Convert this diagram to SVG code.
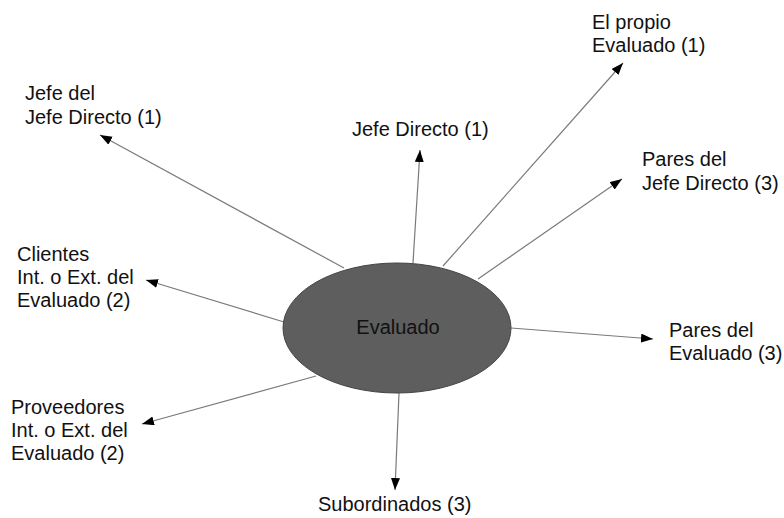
<svg xmlns="http://www.w3.org/2000/svg" width="784" height="518" viewBox="0 0 784 518">
<defs>
<marker id="ah" markerUnits="userSpaceOnUse" markerWidth="13" markerHeight="10" refX="12" refY="4.5" orient="auto">
<path d="M0,0 L12,4.5 L0,9 z" fill="#000"/>
</marker>
<style>
text{font-family:"Liberation Sans",Arial,Helvetica,sans-serif;font-size:20px;fill:#111}
.c{stroke:#7a7a7a;stroke-width:1.2;fill:none;marker-end:url(#ah)}
</style>
</defs>
<rect width="784" height="518" fill="#fff"/>
<g id="connectors">
<line class="c" x1="344" y1="268" x2="100" y2="135"/>
<line class="c" x1="413" y1="263" x2="420" y2="150"/>
<line class="c" x1="443" y1="266" x2="623" y2="63"/>
<line class="c" x1="478" y1="279" x2="622" y2="179"/>
<line class="c" x1="284" y1="322" x2="146" y2="280"/>
<line class="c" x1="511" y1="328" x2="653" y2="339"/>
<line class="c" x1="316" y1="376" x2="142" y2="424"/>
<line class="c" x1="399" y1="393" x2="395" y2="490"/>
</g>
<g id="evaluado">
<ellipse cx="397" cy="328" rx="114" ry="65" fill="#5e5e5e" stroke="#444" stroke-width="1"/>
<text x="398" y="334" text-anchor="middle">Evaluado</text>
</g>
<g id="jefe-del-jefe">
<text x="25" y="100">Jefe del</text>
<text x="25" y="123.5">Jefe Directo (1)</text>
</g>
<g id="jefe-directo">
<text x="352" y="136">Jefe Directo (1)</text>
</g>
<g id="el-propio">
<text x="592" y="28.5">El propio</text>
<text x="592" y="52">Evaluado (1)</text>
</g>
<g id="pares-jefe">
<text x="642" y="166">Pares del</text>
<text x="642" y="190">Jefe Directo (3)</text>
</g>
<g id="clientes">
<text x="17" y="261">Clientes</text>
<text x="17" y="284">Int. o Ext. del</text>
<text x="17" y="307">Evaluado (2)</text>
</g>
<g id="pares-evaluado">
<text x="669" y="337">Pares del</text>
<text x="669" y="360">Evaluado (3)</text>
</g>
<g id="proveedores">
<text x="11" y="413.5">Proveedores</text>
<text x="11" y="437">Int. o Ext. del</text>
<text x="11" y="460">Evaluado (2)</text>
</g>
<g id="subordinados">
<text x="318" y="511">Subordinados (3)</text>
</g>
</svg>
